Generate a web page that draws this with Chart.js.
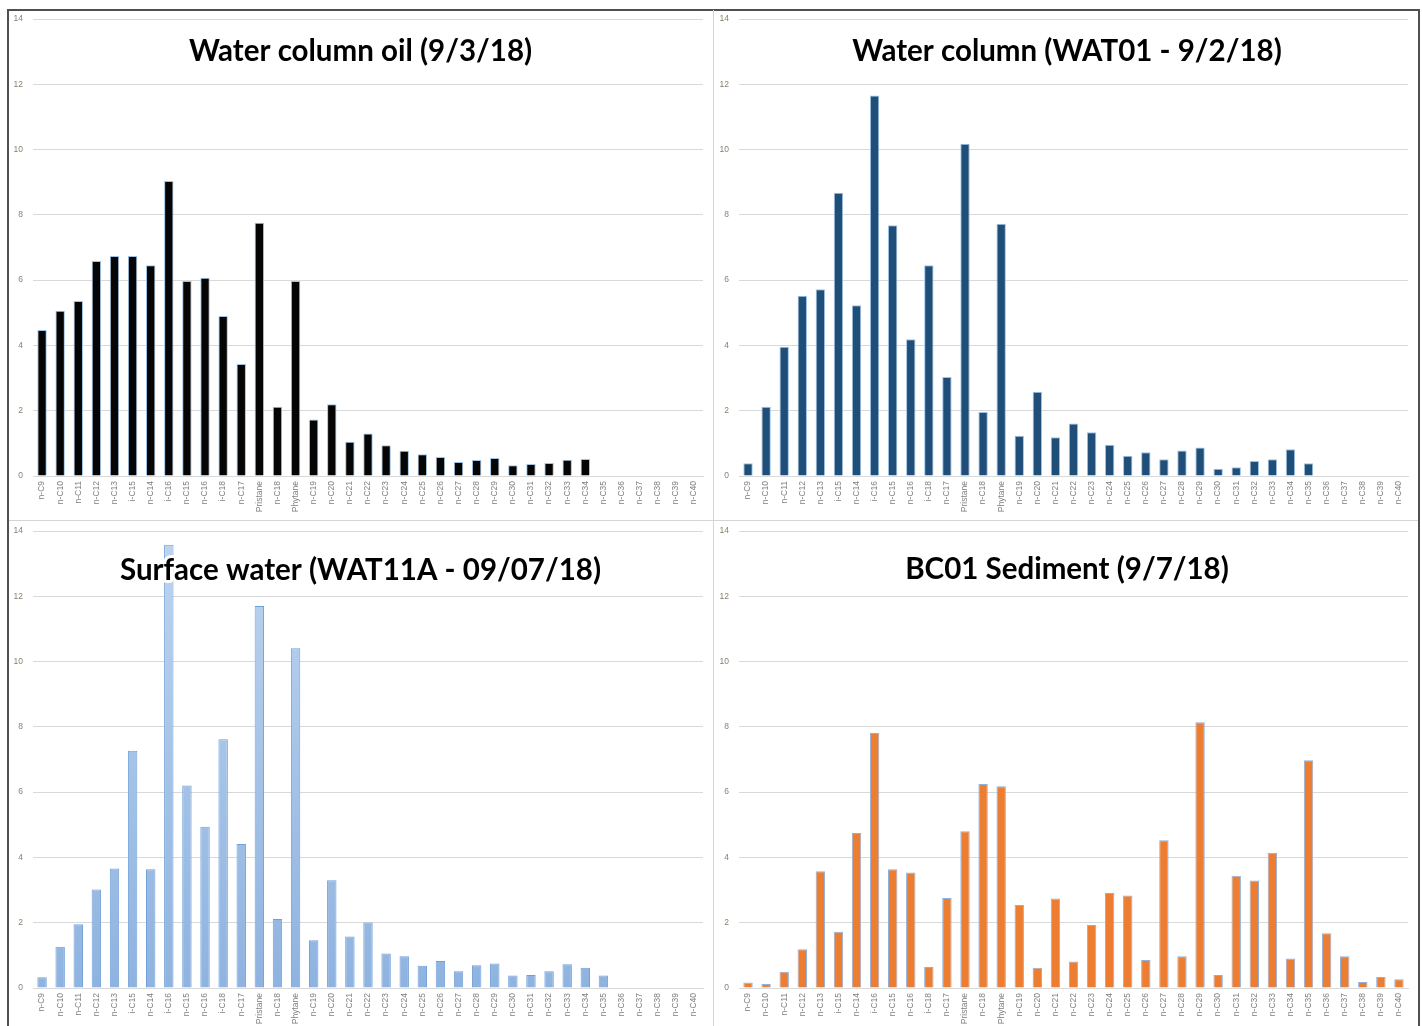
<!DOCTYPE html>
<html><head><meta charset="utf-8">
<script src="https://cdn.jsdelivr.net/npm/chart.js@4.4.0/dist/chart.umd.min.js"></script>
<style>
html,body{margin:0;padding:0;background:#fff;width:1422px;height:1026px;overflow:hidden;position:relative;}
.frame{position:absolute;left:7px;top:9px;width:1413px;height:1040px;border:2px solid #505050;box-sizing:border-box;}
.vdiv{position:absolute;left:713px;top:10px;width:1px;height:1016px;background:#d4d4d4;}
.hdiv{position:absolute;left:9px;top:520px;width:1409px;height:1px;background:#d4d4d4;}
canvas{position:absolute;}
</style>
</head><body>
<div class="frame"></div>
<div class="vdiv"></div>
<div class="hdiv"></div>
<canvas id="c1" width="705" height="510" style="left:8px;top:10px"></canvas>
<canvas id="c2" width="706" height="510" style="left:714px;top:10px"></canvas>
<canvas id="c3" width="705" height="505" style="left:8px;top:521px"></canvas>
<canvas id="c4" width="706" height="505" style="left:714px;top:521px"></canvas>
<script>
const categories = ['n-C9','n-C10','n-C11','n-C12','n-C13','i-C15','n-C14','i-C16','n-C15','n-C16','i-C18','n-C17','Pristane','n-C18','Phytane','n-C19','n-C20','n-C21','n-C22','n-C23','n-C24','n-C25','n-C26','n-C27','n-C28','n-C29','n-C30','n-C31','n-C32','n-C33','n-C34','n-C35','n-C36','n-C37','n-C38','n-C39','n-C40'];

const waterColumnOil = [4.47,5.06,5.36,6.59,6.74,6.74,6.46,9.04,5.97,6.07,4.90,3.43,7.76,2.12,5.97,1.73,2.20,1.05,1.30,0.94,0.77,0.67,0.58,0.43,0.49,0.55,0.33,0.37,0.40,0.50,0.52,null,null,null,null,null,null];
const waterColumnWAT01 = [0.39,2.12,3.96,5.52,5.72,8.68,5.23,11.66,7.68,4.19,6.46,3.03,10.18,1.96,7.73,1.23,2.58,1.19,1.61,1.34,0.96,0.62,0.73,0.51,0.78,0.87,0.22,0.27,0.46,0.51,0.82,0.39,null,null,null,null,null];
const surfaceWAT11A = [0.33,1.26,1.95,3.02,3.66,7.27,3.64,13.58,6.20,4.94,7.62,4.41,11.70,2.11,10.41,1.46,3.30,1.58,2.01,1.06,0.97,0.68,0.83,0.51,0.70,0.75,0.38,0.40,0.51,0.73,0.62,0.38,null,null,null,null,null];
const sedimentBC01 = [0.17,0.12,0.50,1.19,3.58,1.72,4.75,7.81,3.64,3.54,0.64,2.76,4.80,6.25,6.18,2.54,0.62,2.74,0.81,1.93,2.91,2.83,0.86,4.53,0.97,8.14,0.40,3.44,3.29,4.14,0.90,6.98,1.68,0.97,0.18,0.34,0.27];

const titles = ['Water column oil (9/3/18)','Water column (WAT01 - 9/2/18)','Surface water (WAT11A - 09/07/18)','BC01 Sediment (9/7/18)'];
const yTicks = [0,2,4,6,8,10,12,14];

const titlePlugin = {
  id:'overTitle',
  afterDatasetsDraw(chart, args, opts){
    const ctx = chart.ctx;
    ctx.save();
    ctx.font = 'bold 29.5px Lato, "Open Sans", sans-serif';
    ctx.textAlign = 'center';
    ctx.textBaseline = 'middle';
    ctx.lineJoin = 'round';
    ctx.strokeStyle = '#ffffff';
    ctx.lineWidth = 6;
    const x = chart.width/2, y = opts.y;
    ctx.strokeText(opts.text, x, y);
    ctx.fillStyle = '#000000';
    ctx.fillText(opts.text, x, y);
    ctx.restore();
  }
};

function makeChart(id, values, title, titleY, fill, border, pad, xh){
  return new Chart(document.getElementById(id), {
    type:'bar',
    data:{labels:categories, datasets:[{data:values, backgroundColor:fill, borderColor:border, borderWidth:1, categoryPercentage:0.8, barPercentage:0.65}]},
    options:{
      responsive:false, animation:false,
      layout:{padding:pad},
      plugins:{legend:{display:false}, tooltip:{enabled:false}, overTitle:{text:title, y:titleY}},
      scales:{
        x:{
          afterFit:(s)=>{s.height = xh; s.paddingLeft = 0; s.paddingRight = 0;},
          grid:{display:false, drawTicks:false},
          border:{display:true, color:'#d9d9d9'},
          ticks:{autoSkip:false, maxRotation:90, minRotation:90, padding:5, color:'#7f7f7f', font:{family:'"Liberation Sans", Arial, sans-serif', size:8.5}}
        },
        y:{
          min:0, max:14,
          afterFit:(s)=>{s.width = 25; s.paddingTop = 0; s.paddingBottom = 0;},
          afterBuildTicks:(s)=>{s.ticks = yTicks.map(v=>({value:v}));},
          grid:{color:'#d9d9d9', drawTicks:false},
          border:{display:false},
          ticks:{padding:10, color:'#8a8170', font:{family:'"Liberation Sans", Arial, sans-serif', size:8.5}}
        }
      }
    },
    plugins:[titlePlugin]
  });
}

function lightGradient(ctx){
  const c = ctx.chart, a = c.chartArea;
  if(!a) return '#a9c5e8';
  const g = c.ctx.createLinearGradient(0, a.top, 0, a.bottom);
  g.addColorStop(0, '#bdd4ef');
  g.addColorStop(1, '#8fb3e0');
  return g;
}

makeChart('c1', waterColumnOil, titles[0], 41, '#050505', '#9dc3e6', {top:9,right:10,left:0,bottom:0}, 44);
makeChart('c2', waterColumnWAT01, titles[1], 41, '#1f4e79', '#9dc3e6', {top:9,right:12,left:0,bottom:0}, 44);
makeChart('c3', surfaceWAT11A, titles[2], 49, lightGradient, '#6fa0d8', {top:10,right:10,left:0,bottom:0}, 38);
makeChart('c4', sedimentBC01, titles[3], 48, '#ed7d31', '#8fb0dc', {top:10,right:12,left:0,bottom:0}, 38);
</script>
</body></html>
